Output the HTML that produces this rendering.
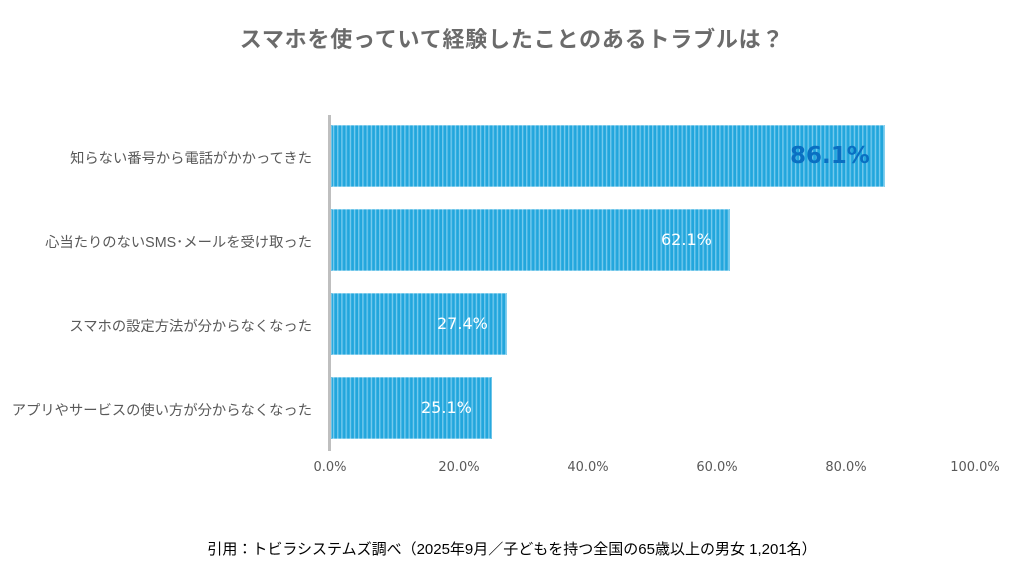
<!DOCTYPE html>
<html><head><meta charset="utf-8"><style>
body{margin:0;width:1024px;height:569px;background:#fff;position:relative;overflow:hidden;font-family:"Liberation Sans","Noto Sans CJK JP",sans-serif;}
.t{position:absolute;left:0;width:1024px;text-align:center;top:22px;font-size:22px;letter-spacing:0.8px;font-weight:bold;color:#6b6b6b;}
.bar{position:absolute;left:331px;height:62px;background:repeating-linear-gradient(90deg,#22a6dc 0px,#22a6dc 1.6px,#8dd3f1 2.4px,#3ab2e4 3.4px,#22a6dc 4.2px);box-shadow:inset 0 0 0 1px rgba(255,255,255,.35);}
.lab{position:absolute;right:712px;font-size:14.3px;color:#595959;white-space:nowrap;}
.v{position:absolute;font-family:"DejaVu Sans",sans-serif;font-size:16px;color:#fff;}
.tick{position:absolute;top:460px;font-family:"DejaVu Sans",sans-serif;font-size:13px;color:#595959;width:80px;text-align:center;}
.axis{position:absolute;left:328px;top:115px;width:3px;height:336px;background:#bfbfbf;}
.f{position:absolute;left:0;width:1024px;text-align:center;top:538px;font-size:15px;color:#000;}
</style></head><body>
<div class="t">スマホを使っていて経験したことのあるトラブルは？</div>
<div class="bar" style="top:125px;width:554px"></div>
<div class="bar" style="top:209px;width:399px"></div>
<div class="bar" style="top:293px;width:176px"></div>
<div class="bar" style="top:377px;width:161px"></div>
<div class="axis"></div>
<div class="lab" style="top:147px">知らない番号から電話がかかってきた</div>
<div class="lab" style="top:231px">心当たりのないSMS･メールを受け取った</div>
<div class="lab" style="top:315px">スマホの設定方法が分からなくなった</div>
<div class="lab" style="top:399px">アプリやサービスの使い方が分からなくなった</div>
<div class="v" style="left:790px;top:143px;font-size:23px;font-weight:bold;color:#0a6fc2">86.1%</div>
<div class="v" style="left:661px;top:230px">62.1%</div>
<div class="v" style="left:437px;top:314px">27.4%</div>
<div class="v" style="left:421px;top:398px">25.1%</div>
<div class="tick" style="left:290px">0.0%</div>
<div class="tick" style="left:419px">20.0%</div>
<div class="tick" style="left:548px">40.0%</div>
<div class="tick" style="left:677px">60.0%</div>
<div class="tick" style="left:806px">80.0%</div>
<div class="tick" style="left:935px">100.0%</div>
<div class="f">引用：トビラシステムズ調べ（2025年9月／子どもを持つ全国の65歳以上の男女 1,201名）</div>
</body></html>
